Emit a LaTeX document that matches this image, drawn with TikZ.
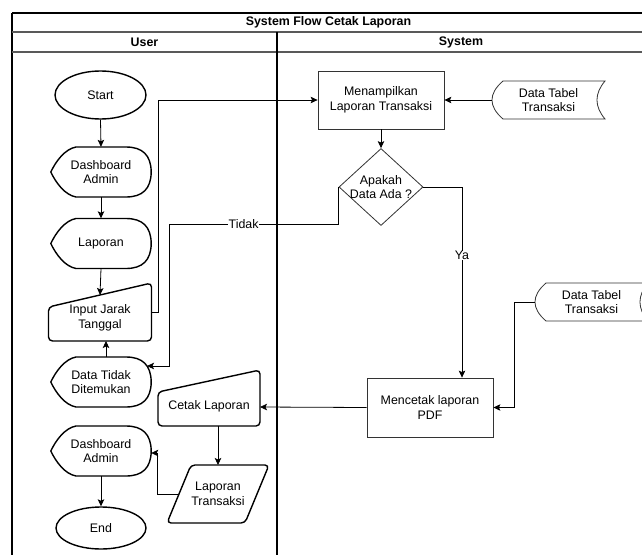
\documentclass[tikz,border=0pt]{standalone}
\usepackage{fontspec}
\setmainfont{Liberation Sans}
\usetikzlibrary{arrows.meta,calc,shapes.geometric}

% outline of a display shape (100 x 50) around node #1
\newcommand\dispshape[1]{%
  \draw[uline] (#1.west)
    .. controls ($(#1.center)+(-45,-11)$) and ($(#1.center)+(-36,-23)$) .. ($(#1.center)+(-25,-25)$)
    -- ($(#1.center)+(25,-25)$)
    .. controls ($(#1.center)+(41.7,-25)$) and ($(#1.center)+(50,-16.7)$) .. (#1.east)
    .. controls ($(#1.center)+(50,16.7)$) and ($(#1.center)+(41.7,25)$) .. ($(#1.center)+(25,25)$)
    -- ($(#1.center)+(-25,25)$)
    .. controls ($(#1.center)+(-36,23)$) and ($(#1.center)+(-45,11)$) .. cycle;}

% manual input outline: node, half width, top-right y, top-left y, bottom y
\newcommand\manshape[5]{%
  \draw[uline, rounded corners=4pt]
    ($(#1.center)+(-#2,#4)$) -- ($(#1.center)+(#2,#3)$) -- ($(#1.center)+(#2,#5)$)
    -- ($(#1.center)+(-#2,#5)$) -- cycle;}

% stored data outline (113 x 38) around node #1
\newcommand\storeshape[1]{%
  \draw[sline] ($(#1.center)+(-45.5,-19)$) -- ($(#1.center)+(56.5,-19)$)
    .. controls ($(#1.center)+(45.8,-6.3)$) and ($(#1.center)+(45.8,6.3)$) .. ($(#1.center)+(56.5,19)$)
    -- ($(#1.center)+(-45.5,19)$)
    .. controls ($(#1.center)+(-60.2,6.3)$) and ($(#1.center)+(-60.2,-6.3)$) .. cycle;}

\begin{document}
\begin{tikzpicture}[x=1pt, y=-1pt,
  txt/.style={font=\fontsize{12.4}{14.5}\selectfont, align=center, inner sep=0pt},
  hdr/.style={font=\bfseries\fontsize{12.4}{14.5}\selectfont, inner sep=0pt},
  uline/.style={draw=black, line width=1.4pt, line join=round},
  sline/.style={draw=black!80, line width=0.8pt},
  arr/.style={draw=black, line width=0.8pt, -{Stealth[length=7pt,width=6.5pt,inset=1.5pt]}},
  lbl/.style={txt, fill=white, inner sep=0.5pt},
  frame/.style={draw=black, line width=1.2pt},
  sep/.style={draw=black!65, line width=1.4pt}]

\useasboundingbox (0,0) rectangle (642,554);
\clip (0,0) rectangle (642,554);
\fill[white] (0,0) rectangle (642,554);

% swimlane frame
\draw[frame] (12,13) -- (660,13);
\draw[frame] (12,13) -- (12,570);
\draw[sep] (12,32) -- (660,32);
\draw[sep] (12,52) -- (660,52);
\draw[frame] (277,32) -- (277,570);
\node[hdr] (title) at (328.5,22.5) {System Flow Cetak Laporan};
\node[hdr] (luser) at (144.5,42.5) {User};
\node[hdr] (lsys) at (461,42.5) {System};

% user lane
\node[ellipse, draw=black, line width=1.4pt, minimum width=91pt, minimum height=48pt, inner sep=0pt, txt] (start) at (100.5,95) {Start};
\node[txt, minimum width=100pt, minimum height=50pt] (dash1) at (101,172) {Dashboard\\Admin};
\node[txt, minimum width=100pt, minimum height=50pt] (lap) at (101,243.5) {Laporan};
\node[txt] (inp) at (100,318) {Input Jarak\\Tanggal};
\node[txt, minimum width=100pt, minimum height=50pt] (notf) at (101,382) {Data Tidak\\Ditemukan};
\node[txt, minimum width=100pt, minimum height=50pt] (dash2) at (101,451) {Dashboard\\Admin};
\node[ellipse, draw=black, line width=1.4pt, minimum width=90pt, minimum height=42pt, inner sep=0pt, txt] (endn) at (101,528) {End};
\node[txt] (cetak) at (209,406) {Cetak Laporan};
\node[txt] (lt) at (218,494) {Laporan\\Transaksi};

\dispshape{dash1}
\dispshape{lap}
\dispshape{notf}
\dispshape{dash2}
\manshape{inp}{51.5}{-35}{-11}{23}
\manshape{cetak}{51}{-36}{-14}{20}
\draw[uline, rounded corners=4pt]
  ($(lt.center)+(-27,-29)$) -- ($(lt.center)+(51,-29)$) -- ($(lt.center)+(27,29)$)
  -- ($(lt.center)+(-51,29)$) -- cycle;

% system lane
\node[txt, draw=black!80, line width=0.8pt, minimum width=126pt, minimum height=58pt] (tampil) at (381,100) {Menampilkan\\Laporan Transaksi};
\node[txt] (db1) at (548.5,100) {Data Tabel\\Transaksi};
\node[diamond, draw=black!80, line width=0.8pt, minimum width=84pt, minimum height=77pt, inner sep=0pt,
  label={[txt]center:{Apakah\\Data Ada ?}}] (dec) at (381,187) {};
\node[txt, draw=black!80, line width=0.8pt, minimum width=126pt, minimum height=59pt] (cetakpdf) at (430,407.5) {Mencetak laporan\\PDF};
\node[txt] (db2) at (591.5,302) {Data Tabel\\Transaksi};
\storeshape{db1}
\storeshape{db2}

\coordinate (tk) at (169,224);

% connectors
\draw[arr] (start.south) -- (dash1.north);
\draw[arr] (dash1.south) -- (lap.north);
\draw[arr] (lap.south) -- ($(inp.center)+(0,-23)$);
\draw[arr] ($(notf.north)+(5,0)$) -- ($(inp.center)+(6,23)$);
\draw[arr] ($(inp.center)+(51.5,-6)$) -- ++(6.5,0) |- (tampil.west);
\draw[arr] ($(db1.center)+(-56.5,0)$) -- (tampil.east);
\draw[arr] (tampil.south) -- (dec.north);
\draw[arr] (dec.east) -| ($(cetakpdf.north)+(32,0)$) node[lbl, pos=0.68] {Ya};
\draw[arr] (dec.west) |- (tk) node[lbl, pos=0.78] {Tidak} |- ($(notf.center)+(46,-16)$);
\draw[arr] ($(db2.center)+(-56.5,0)$) -- ++(-21,0) |- (cetakpdf.east);
\draw[arr] (cetakpdf.west) -- ($(cetak.center)+(51,1)$);
\draw[arr] ($(cetak.center)+(9,20)$) -- (lt.center |- {(0,465)});
\draw[arr] ($(lt.center)+(-39,0)$) -- ++(-22,0) |- ($(dash2.east)+(0,2)$);
\draw[arr] (dash2.south) -- (endn.north);
\end{tikzpicture}
\end{document}
